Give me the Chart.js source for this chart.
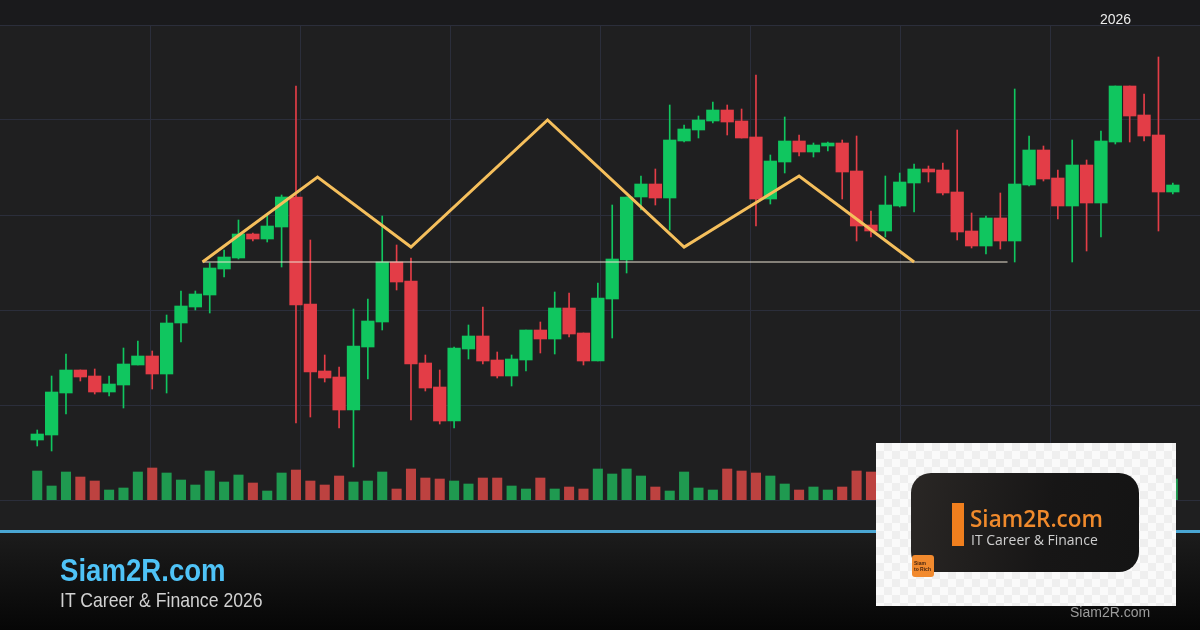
<!DOCTYPE html>
<html>
<head>
<meta charset="utf-8">
<script src="https://cdn.jsdelivr.net/npm/chart.js@4.4.1/dist/chart.umd.min.js"></script>
<style>
  html, body { margin: 0; padding: 0; background: #1f1f20; }
  #stage {
    position: relative; width: 1200px; height: 630px; overflow: hidden;
    background: linear-gradient(to bottom,
      #1a1a1c 0px, #1a1a1c 25px,
      #1f1f20 25px, #1f1f20 530px,
      #4aa6d3 530px, #4aa6d3 533px,
      #1c1c1c 533px, #060606 630px);
  }
  #chart { position: absolute; left: 0; top: 0; }
  .txt { position: absolute; line-height: 1; white-space: nowrap; font-family: 'Liberation Sans', Arial, sans-serif; }
  .brand { left: 60px; top: 555px; font-size: 31px; font-weight: bold; color: #4fc3f7; transform: scaleX(0.89); transform-origin: left top; }
  .tagline { left: 60px; top: 589px; font-size: 21px; color: #d2d2d2; transform: scaleX(0.84); transform-origin: left top; }
  .year { left: 1100px; top: 12px; font-size: 14px; color: #ececec; }
  .footer-url { left: 1070px; top: 605px; font-size: 14px; color: #9c9c9c; }

  .logo {
    position: absolute; left: 876px; top: 443px; width: 300px; height: 163px;
    background-color: #fafafa;
    background-image: conic-gradient(#efefef 25%, #fafafa 0 50%, #efefef 0 75%, #fafafa 0);
    background-size: 16px 16px;
  }
  .logo-card {
    position: absolute; left: 35px; top: 30px; width: 228px; height: 99px; border-radius: 20px;
    background: linear-gradient(100deg, #2a2725, #171616 60%, #141414);
  }
  .logo-bar { position: absolute; left: 41px; top: 30px; width: 12px; height: 43px; background: #f07f1e; }
  .logo-name { position: absolute; left: 59px; top: 35px; font: 600 22.5px 'Open Sans', sans-serif; line-height: 1; color: #f08a2c; white-space: nowrap; }
  .logo-sub { position: absolute; left: 60px; top: 60px; font: 14px 'Open Sans', sans-serif; line-height: 1; color: #cfcfcf; white-space: nowrap; }
  .logo-badge {
    position: absolute; left: 36px; top: 112px; width: 22px; height: 22px; border-radius: 3px;
    background: #f28a2e; color: #4a2610; font: bold 5px 'Liberation Sans', sans-serif; line-height: 6px;
    padding: 5px 0 0 2px; box-sizing: border-box; white-space: nowrap; overflow: hidden;
  }
</style>
</head>
<body>
<div id="stage">
  <canvas id="chart" width="1200" height="630"></canvas>
  <div class="txt year">2026</div>
  <div class="txt brand">Siam2R.com</div>
  <div class="txt tagline">IT Career &amp; Finance 2026</div>
  <div class="txt footer-url">Siam2R.com</div>
  <div class="logo">
    <div class="logo-card">
      <div class="logo-bar"></div>
      <div class="logo-name">Siam2R.com</div>
      <div class="logo-sub">IT Career &amp; Finance</div>
    </div>
    <div class="logo-badge">Siam<br>to Rich</div>
  </div>
</div>
<script>
// Datos de velas (OHLC) y volumen
const opens  = [1060,1065,1107,1130,1124,1108,1115,1135,1144,1126,1177,1193,1205,1231,1242,1266,1261,1273,1303,1196,
                1129,1123,1090,1153,1178,1238,1219,1137,1113,1079,1151,1164,1140,1124,1140,1170,1161,1192,1167,1139,
                1201,1240,1303,1316,1302,1359,1370,1379,1390,1379,1363,1301,1338,1359,1348,1354,1357,1329,1275,1269,
                1294,1317,1331,1330,1308,1269,1254,1282,1259,1315,1350,1322,1294,1335,1297,1358,1414,1385,1365,1308];
const highs  = [1070,1124,1146,1130,1131,1124,1152,1159,1149,1185,1209,1209,1237,1250,1280,1267,1285,1305,1414,1260,
                1145,1133,1191,1201,1284,1255,1242,1145,1130,1153,1175,1193,1148,1145,1170,1178,1208,1207,1167,1217,
                1295,1303,1324,1331,1395,1375,1384,1398,1395,1391,1425,1345,1383,1365,1357,1358,1360,1364,1289,1324,
                1327,1336,1334,1337,1370,1287,1284,1307,1411,1364,1354,1330,1360,1340,1369,1414,1414,1406,1443,1317];
const lows   = [1054,1049,1086,1119,1106,1104,1092,1135,1111,1107,1158,1190,1187,1223,1241,1259,1258,1233,1077,1083,
                1118,1072,1033,1121,1170,1210,1080,1109,1076,1072,1141,1136,1122,1114,1129,1147,1146,1163,1135,1139,
                1162,1227,1290,1295,1270,1358,1362,1377,1365,1362,1274,1296,1327,1344,1343,1349,1301,1259,1263,1263,
                1293,1288,1318,1305,1260,1252,1246,1251,1238,1314,1319,1281,1238,1249,1263,1356,1358,1359,1269,1306];
const closes = [1066,1108,1130,1123,1108,1116,1136,1144,1126,1177,1194,1206,1232,1243,1266,1261,1274,1303,1195,1128,
                1122,1090,1154,1179,1238,1218,1136,1112,1079,1152,1164,1139,1124,1141,1170,1161,1192,1166,1139,1202,
                1241,1303,1316,1302,1360,1371,1380,1390,1378,1362,1301,1339,1359,1348,1355,1357,1328,1274,1269,1295,
                1318,1331,1328,1307,1268,1254,1282,1259,1316,1350,1321,1294,1335,1297,1359,1414,1384,1364,1308,1315];
const volumes = [29,14,28,23,19,10,12,28,32,27,20,15,29,18,25,17,9,27,30,19,
                 15,24,18,19,28,11,31,22,21,19,16,22,22,14,11,22,11,13,11,31,
                 26,31,24,13,9,28,12,10,31,29,27,24,16,10,13,10,13,29,28,18,
                 22,14,12,20,26,15,17,13,30,22,16,19,24,18,21,28,20,14,26,21];

// Patron dibujado (zigzag) y linea de soporte
const patternX  = [11.5, 19.5, 26, 35.5, 45, 53, 61];
const patternY  = [1238, 1323, 1253, 1380, 1253, 1324, 1238];
const necklineX = [11.5, 67.5];
const necklineY = [1238, 1238];

const GREEN = '#10c65f';
const RED = '#e33d47';
const VOL_GREEN = '#1f9a50';
const VOL_RED = '#bd4240';
const GRID = '#2b2e3b';

const idx = opens.map((_, i) => i);
const isUp = idx.map(i => closes[i] >= opens[i]);

const datasets = [
  {
    type: 'line', order: 0, xAxisID: 'x', yAxisID: 'y',
    data: patternX.map((x, i) => ({ x: x, y: patternY[i] })),
    borderColor: '#f5bf5c', borderWidth: 3, pointRadius: 0, tension: 0,
    borderJoinStyle: 'miter'
  },
  {
    type: 'line', order: 0, xAxisID: 'x', yAxisID: 'y',
    data: necklineX.map((x, i) => ({ x: x, y: necklineY[i] })),
    borderColor: '#ece4d2', borderWidth: 1, pointRadius: 0
  },
  {
    type: 'bar', order: 1, grouped: false, xAxisID: 'x', yAxisID: 'y',
    data: idx.map(i => ({ x: i, y: [opens[i], closes[i]] })),
    backgroundColor: idx.map(i => isUp[i] ? GREEN : RED),
    barThickness: 12.6, borderWidth: 0
  },
  {
    type: 'bar', order: 2, grouped: false, xAxisID: 'x', yAxisID: 'y',
    data: idx.map(i => ({ x: i, y: [lows[i], highs[i]] })),
    backgroundColor: idx.map(i => isUp[i] ? GREEN : RED),
    barThickness: 1, borderWidth: 0
  },
  {
    type: 'bar', order: 3, grouped: false, xAxisID: 'x', yAxisID: 'yv',
    data: idx.map(i => ({ x: i, y: volumes[i] })),
    backgroundColor: idx.map(i => isUp[i] ? VOL_GREEN : VOL_RED),
    barThickness: 9.4, borderWidth: 0
  }
];

new Chart(document.getElementById('chart'), {
  type: 'bar',
  data: { datasets: datasets },
  options: {
    responsive: false,
    animation: false,
    devicePixelRatio: 1,
    layout: { padding: { top: 25, bottom: 130, left: 0, right: 0 } },
    plugins: { legend: { display: false }, tooltip: { enabled: false } },
    scales: {
      x: { type: 'linear', display: false, min: -2.59, max: 80.89, offset: false },
      xg: {
        type: 'linear', position: 'bottom', min: 0, max: 8, offset: false,
        ticks: { display: false, stepSize: 1 },
        grid: {
          color: ctx => (ctx.index === 0 || ctx.index === 8) ? 'rgba(0,0,0,0)' : GRID,
          drawTicks: false, offset: false
        },
        border: { display: false }
      },
      y: {
        type: 'linear', position: 'left', min: 1000, max: 1475,
        ticks: { display: false, stepSize: 95 },
        grid: { color: GRID, drawTicks: false, offset: false },
        border: { display: false }
      },
      yv: { type: 'linear', display: false, min: 0, max: 475 }
    }
  }
});
</script>
</body>
</html>
